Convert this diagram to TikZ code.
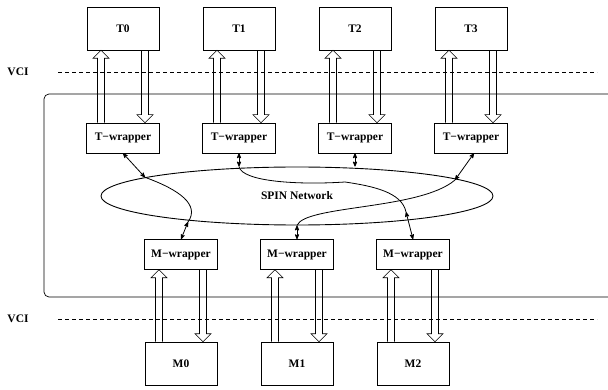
\documentclass[tikz,border=0pt]{standalone}
\usepackage{fontspec}
\setmainfont{Liberation Serif}
\usepackage{tikz}
\usetikzlibrary{arrows, calc, shapes}

\tikzset{
	block/.style={draw, line width=0.6pt, minimum width=72pt, minimum height=43pt, inner sep=0pt},
	wrapper/.style={draw, line width=0.6pt, minimum width=73pt, minimum height=30pt, inner sep=0pt},
	link/.style={line width=0.8pt, >=stealth'},
	fat/.style={line width=0.6pt, to path={let \p1=(\tikztostart), \p2=(\tikztotarget), \p3=($(\p2)!8pt!(\p1)$) in
		(\x1-3.5pt,\y1) -- (\x1-3.5pt,\y3) -- (\x1-8pt,\y3) -- (\x2,\y2) -- (\x1+8pt,\y3) -- (\x1+3.5pt,\y3) -- (\x1+3.5pt,\y1)}},
}

\begin{document}
\begin{tikzpicture}[x=1pt, y=-1pt, font=\fontsize{11.5}{13}\selectfont\bfseries]

\useasboundingbox (0,0) rectangle (608,390);

\def \tx{123} % x of T0
\def \mx{181} % x of M0
\def \dx{116} % column step

% interface lines
\node (vcitop) at (18,72) {VCI};
\node (vcibot) at (18,319) {VCI};
\draw[line width=0.6pt, dash pattern=on 4pt off 3pt] (58,72) -- (597,72);
\draw[line width=0.6pt, dash pattern=on 4pt off 3pt] (58,319) -- (597,319);

% network frame
\draw[line width=0.7pt, rounded corners=5pt] (608,94) -- (44,94) -- (44,297) -- (608,297);

\foreach \i in {0,...,3} {
	\node[block] (t\i) at (\tx+\i*\dx, 28.5) {T\i};
	\node[wrapper] (tw\i) at (\tx+\i*\dx, 138) {T−wrapper};
	\draw[fat] ([xshift=-22pt]tw\i.north) to ([xshift=-22pt]t\i.south); % request
	\draw[fat] ([xshift=22pt]t\i.south) to ([xshift=22pt]tw\i.north); % response
}

\foreach \i in {0,...,2} {
	\node[wrapper] (mw\i) at (\mx+\i*\dx, 254.5) {M−wrapper};
	\node[block] (m\i) at (\mx+\i*\dx, 363.5) {M\i};
	\draw[fat] ([xshift=-22pt]m\i.north) to ([xshift=-22pt]mw\i.south); % response
	\draw[fat] ([xshift=22pt]mw\i.south) to ([xshift=22pt]m\i.north); % request
}

\node[draw, ellipse, line width=0.9pt, minimum width=392pt, minimum height=58pt, inner sep=0pt] (spin) at (297,196) {SPIN Network};

% routes through the network
\coordinate (a0) at (188,222);
\coordinate (b0) at (406,212);
\coordinate (c0) at (455,180);

\draw[link, <->] (tw0.south) -- (spin.173);
\draw[link] (spin.173) .. controls (180,190) and (200,205) .. (a0);
\draw[link, <->] (a0) -- (mw0.north);

\draw[link, <->] (tw1.south) -- (tw1.south |- spin.north);
\draw[link] (tw1.south |- spin.north) .. controls (242,182) and (300,185) .. (345,182) .. controls (372,186) and (402,192) .. (b0);
\draw[link, <->] (b0) -- (mw2.north);

\draw[link, <->] (tw2.south) -- (tw2.south |- spin.north);

\draw[link, <->] (mw1.north) -- (mw1.north |- spin.south);
\draw[link] (mw1.north |- spin.south) .. controls (305,205) and (420,210) .. (c0);
\draw[link, <->] (c0) -- ([xshift=3pt]tw3.south);

\end{tikzpicture}
\end{document}
